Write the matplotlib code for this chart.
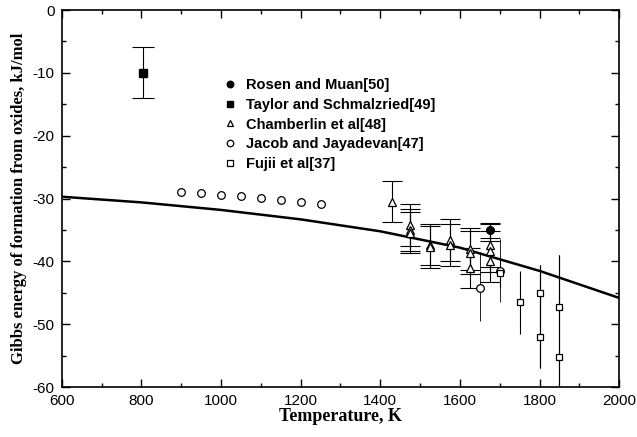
import numpy as np
import matplotlib
matplotlib.use('Agg')
import matplotlib.pyplot as plt
from matplotlib.ticker import MultipleLocator

""" =======================  Data ========================== """

# Calculated curve
calc_T = [600, 800, 1000, 1200, 1400, 1600, 1800, 2000]
calc_G = [-29.7, -30.6, -31.8, -33.3, -35.2, -37.8, -41.5, -45.8]

# Rosen and Muan[50]
rosen_T = [1675]
rosen_G = [-35.0]
rosen_lo = [-36.2]
rosen_hi = [-33.8]

# Taylor and Schmalzried[49]
taylor_T = [805]
taylor_G = [-10.0]
taylor_lo = [-14.0]
taylor_hi = [-5.8]

# Chamberlin et al[48]
cham_T = [1430, 1475, 1475, 1475, 1525, 1525, 1575, 1575, 1625, 1625, 1625, 1675, 1675, 1675]
cham_G = [-30.5, -34.2, -35.0, -35.4, -37.3, -37.7, -36.6, -37.4, -38.0, -38.6, -41.0, -37.4, -38.4, -40.0]
cham_lo = [-33.7, -37.6, -38.3, -38.7, -40.6, -41.0, -39.9, -40.7, -41.4, -42.0, -44.2, -40.8, -41.6, -43.2]
cham_hi = [-27.2, -30.8, -31.6, -32.1, -34.0, -34.3, -33.3, -34.0, -34.7, -35.2, -37.8, -34.0, -35.1, -36.8]

# Jacob and Jayadevan[47]
jacob_T = [900, 950, 1000, 1050, 1100, 1150, 1200, 1250]
jacob_G = [-28.9, -29.1, -29.4, -29.6, -29.9, -30.2, -30.5, -30.8]
jacob_err_T = [1650, 1700]
jacob_err_G = [-44.3, -41.5]
jacob_err_lo = [-49.5, -46.5]
jacob_err_hi = [-38.5, -36.5]

# Fujii et al[37]
fujii_T = [1700, 1750, 1800, 1800, 1850, 1850]
fujii_G = [-41.8, -46.5, -45.0, -52.0, -47.2, -55.2]
fujii_lo = [-44.0, -51.5, -57.0, -57.0, -60.0, -60.0]
fujii_hi = [-39.5, -41.5, -40.5, -40.5, -39.0, -39.0]

""" =======================  Plot ========================== """

def yerr(vals, lo, hi):
    vals = np.array(vals)
    return [vals - np.array(lo), np.array(hi) - vals]

def main():
    plt.rcParams['axes.unicode_minus'] = False
    fig = plt.figure(figsize=(6.37, 4.37), dpi=100)
    ax = fig.add_axes([0.097, 0.114, 0.875, 0.863])

    ax.plot(calc_T, calc_G, color='black', lw=1.8, zorder=2)

    # thin vertical bars without caps
    ax.errorbar(fujii_T, fujii_G, yerr=yerr(fujii_G, fujii_lo, fujii_hi), fmt='none',
                ecolor='black', elinewidth=0.8, capsize=0, zorder=1)
    ax.errorbar(jacob_err_T, jacob_err_G, yerr=yerr(jacob_err_G, jacob_err_lo, jacob_err_hi),
                fmt='none', ecolor='black', elinewidth=0.6, capsize=0, zorder=1)

    # capped bars
    ax.errorbar(cham_T, cham_G, yerr=yerr(cham_G, cham_lo, cham_hi), fmt='none',
                ecolor='black', elinewidth=0.8, capsize=7, capthick=0.8, zorder=1)
    ax.errorbar(rosen_T, rosen_G, yerr=yerr(rosen_G, rosen_lo, rosen_hi), fmt='none',
                ecolor='black', elinewidth=0.8, capsize=7, capthick=0.8, zorder=1)
    ax.errorbar(taylor_T, taylor_G, yerr=yerr(taylor_G, taylor_lo, taylor_hi), fmt='none',
                ecolor='black', elinewidth=0.8, capsize=8, capthick=0.8, zorder=1)

    ax.plot(rosen_T, rosen_G, 'o', color='black', ms=5.5, ls='none',
            label='Rosen and Muan[50]', zorder=3)
    ax.plot(taylor_T, taylor_G, 's', color='black', ms=5.5, ls='none',
            label='Taylor and Schmalzried[49]', zorder=3)
    ax.plot(cham_T, cham_G, '^', mfc='white', mec='black', mew=0.9, ms=5.5, ls='none',
            label='Chamberlin et al[48]', zorder=3)
    ax.plot(jacob_T + jacob_err_T, jacob_G + jacob_err_G, 'o', mfc='white', mec='black',
            mew=0.9, ms=5.5, ls='none', label='Jacob and Jayadevan[47]', zorder=3)
    ax.plot(fujii_T, fujii_G, 's', mfc='white', mec='black', mew=0.9, ms=5, ls='none',
            label='Fujii et al[37]', zorder=3)

    ax.set_xlim(600, 2000)
    ax.set_ylim(-60, 0)
    ax.xaxis.set_major_locator(MultipleLocator(200))
    ax.xaxis.set_minor_locator(MultipleLocator(100))
    ax.yaxis.set_major_locator(MultipleLocator(10))
    ax.yaxis.set_minor_locator(MultipleLocator(5))
    ax.tick_params(which='both', direction='in', top=True, right=True, width=1)
    ax.tick_params(which='major', length=6, labelsize=11, pad=5)
    ax.tick_params(which='minor', length=3)
    for lab in ax.get_xticklabels() + ax.get_yticklabels():
        lab.set_family('Liberation Sans')
    for s in ax.spines.values():
        s.set_linewidth(1.2)

    ax.set_xlabel('Temperature, K', family='Liberation Serif', fontweight='bold',
                  fontsize=13, labelpad=0)
    ax.set_ylabel('Gibbs energy of formation from oxides, kJ/mol', family='Liberation Serif',
                  fontweight='bold', fontsize=12, labelpad=4)

    ax.legend(loc='upper left', bbox_to_anchor=(0.27, 0.855), frameon=False,
              prop={'family': 'Liberation Sans', 'weight': 'bold', 'size': 10.5},
              handlelength=0.6, handletextpad=0.8, labelspacing=0.4, markerscale=0.85)

    fig.savefig('out.png', dpi=100)

if __name__ == "__main__":
    main()
